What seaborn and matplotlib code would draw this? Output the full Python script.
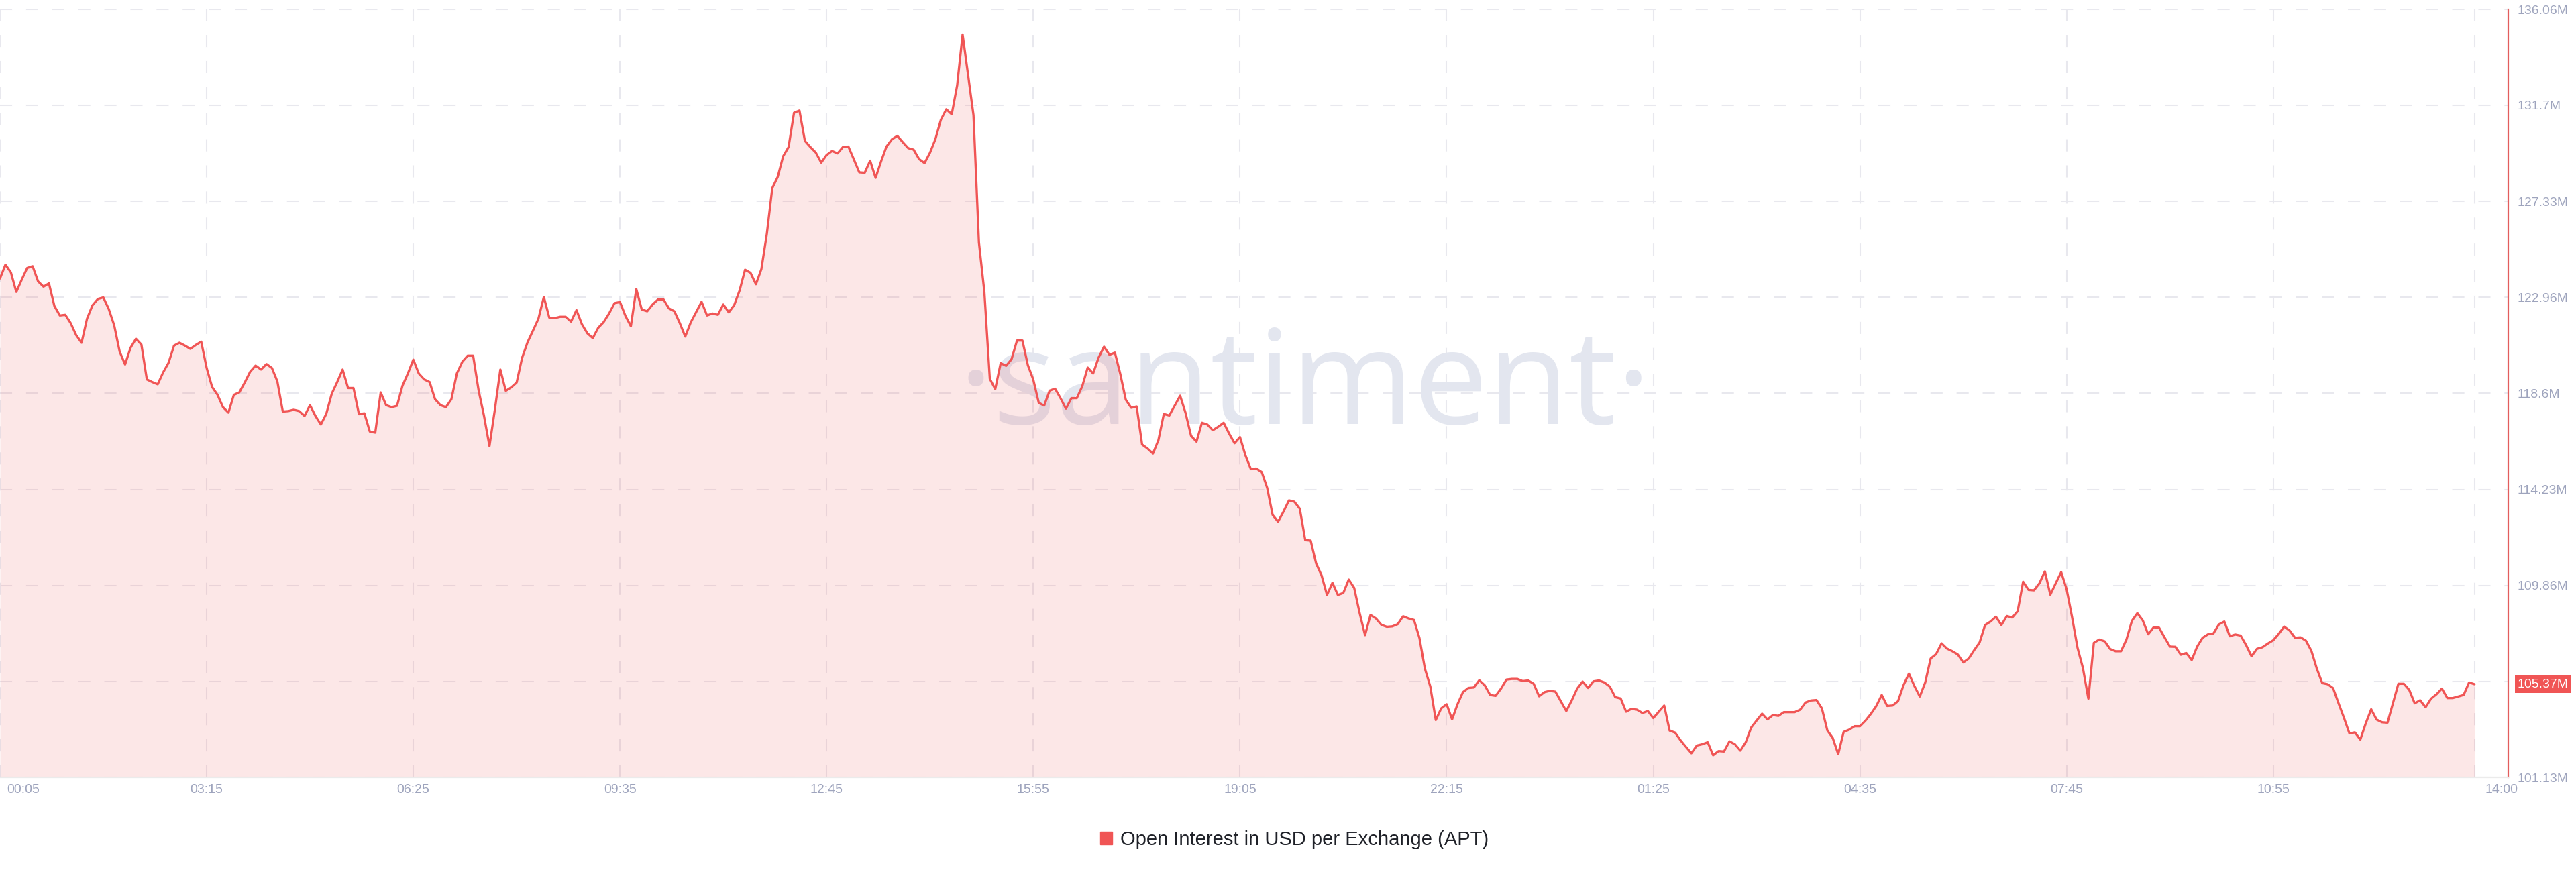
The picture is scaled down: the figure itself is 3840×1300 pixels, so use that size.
import pandas as pd
import seaborn as sns
import matplotlib.pyplot as plt
from matplotlib.patches import Patch
from matplotlib.transforms import ScaledTranslation, blended_transform_factory

# Open interest in USD, millions, one value every 5 minutes starting at 00:05
start_time = "2024-01-01 00:05"
open_interest = [
    123.82, 124.45, 124.10, 123.21, 123.77, 124.30, 124.38, 123.69, 123.45, 123.60,
    122.57, 122.14, 122.17, 121.79, 121.25, 120.90, 121.99, 122.60, 122.89, 122.96,
    122.43, 121.69, 120.50, 119.91, 120.67, 121.08, 120.82, 119.23, 119.11, 119.01,
    119.55, 119.99, 120.77, 120.90, 120.77, 120.62, 120.80, 120.95, 119.75, 118.89,
    118.53, 117.97, 117.72, 118.53, 118.64, 119.09, 119.58, 119.86, 119.68, 119.93,
    119.75, 119.14, 117.77, 117.79, 117.85, 117.79, 117.57, 118.06, 117.57, 117.18,
    117.67, 118.58, 119.11, 119.68, 118.84, 118.84, 117.65, 117.69, 116.86, 116.81,
    118.64, 118.06, 117.97, 118.03, 118.94, 119.50, 120.13, 119.50, 119.23, 119.11,
    118.33, 118.06, 117.97, 118.33, 119.50, 120.03, 120.31, 120.31, 118.74, 117.57,
    116.20, 117.87, 119.68, 118.71, 118.87, 119.09, 120.21, 120.92, 121.45, 121.99,
    122.98, 122.04, 122.02, 122.08, 122.08, 121.86, 122.38, 121.74, 121.33, 121.11,
    121.58, 121.84,
    122.23, 122.70, 122.75, 122.12, 121.65, 123.34, 122.41, 122.33, 122.64, 122.87,
    122.87, 122.46, 122.33, 121.79, 121.18, 121.82, 122.29, 122.76, 122.14, 122.23,
    122.17, 122.64, 122.28, 122.61, 123.28, 124.22, 124.08, 123.56, 124.25, 125.85,
    127.93, 128.44, 129.38, 129.80, 131.36, 131.46, 130.08, 129.80, 129.55, 129.09,
    129.44, 129.62, 129.51, 129.80, 129.82, 129.24, 128.65, 128.63, 129.18, 128.40,
    129.14, 129.82, 130.15, 130.31,
    130.02, 129.75, 129.68, 129.25, 129.07, 129.54, 130.16, 131.04, 131.52, 131.29,
    132.61, 134.92, 133.09, 131.25, 125.46, 123.21, 119.26, 118.79, 119.97, 119.85,
    120.15, 121.00, 121.00, 119.88, 119.22, 118.17, 118.04, 118.72, 118.81, 118.38,
    117.90, 118.38, 118.38, 118.92, 119.77, 119.50, 120.22, 120.72, 120.35, 120.45,
    119.47, 118.31, 117.94, 118.00, 116.27, 116.09, 115.86, 116.47, 117.66, 117.59,
    118.04, 118.49, 117.70, 116.67, 116.40, 117.26, 117.18, 116.92, 117.08, 117.26,
    116.77, 116.33, 116.61,
    115.78, 115.15, 115.18, 115.02, 114.30, 113.07, 112.76, 113.22, 113.73, 113.67,
    113.35, 111.92, 111.90, 110.86, 110.32, 109.43, 109.98, 109.43, 109.52, 110.13,
    109.75, 108.61, 107.60, 108.52, 108.36, 108.07, 107.98, 108.00, 108.10, 108.46,
    108.36, 108.29, 107.47, 106.08, 105.26, 103.74, 104.27, 104.46, 103.77, 104.46,
    105.01, 105.20, 105.22, 105.55, 105.32, 104.88, 104.84, 105.17, 105.58, 105.61,
    105.61, 105.51, 105.54, 105.39, 104.82, 105.01, 105.07, 105.03, 104.59, 104.15,
    104.63, 105.17, 105.49, 105.20, 105.50, 105.54, 105.45, 105.26, 104.78, 104.72,
    104.12, 104.25, 104.21, 104.06, 104.15, 103.83, 104.12, 104.40, 103.26, 103.17,
    102.82, 102.52, 102.23, 102.58, 102.64, 102.73, 102.14, 102.33, 102.31, 102.77,
    102.64, 102.35, 102.73, 103.40, 103.72, 104.03, 103.77, 103.97, 103.93, 104.10,
    104.10, 104.10, 104.21, 104.54, 104.63, 104.65, 104.27, 103.27, 102.92, 102.19,
    103.20, 103.30, 103.46, 103.46, 103.71, 104.02, 104.38, 104.88, 104.38, 104.40,
    104.60, 105.32, 105.85,
    105.29, 104.81, 105.45, 106.54, 106.74, 107.23, 106.99, 106.87, 106.72, 106.36,
    106.54, 106.92, 107.27, 108.06, 108.22, 108.44, 108.06, 108.47, 108.40, 108.69,
    110.03, 109.66, 109.64, 109.96, 110.50, 109.44, 109.96, 110.47, 109.69, 108.42,
    107.03, 106.10, 104.71, 107.25, 107.40, 107.32, 106.97, 106.87, 106.87, 107.40,
    108.25, 108.60, 108.27, 107.64, 107.96, 107.94, 107.50, 107.08, 107.07, 106.71,
    106.79, 106.47, 107.08, 107.48, 107.64, 107.68, 108.09, 108.22, 107.55, 107.63,
    107.58, 107.15, 106.64, 106.98, 107.05, 107.22, 107.37, 107.66, 107.99, 107.81,
    107.48, 107.50, 107.35, 106.89, 106.08, 105.42, 105.37, 105.19, 104.50, 103.84,
    103.13, 103.18, 102.85, 103.59, 104.23, 103.76, 103.64, 103.62, 104.50, 105.39,
    105.39, 105.11, 104.50, 104.64, 104.32, 104.71, 104.91, 105.17, 104.74, 104.74,
    104.81, 104.88, 105.45, 105.37,
]

ytick_values = [101.13, 105.50, 109.86, 114.23, 118.60, 122.96, 127.33, 131.70, 136.06]
ytick_labels = ["101.13M", "", "109.86M", "114.23M", "118.6M", "122.96M", "127.33M", "131.7M", "136.06M"]
xtick_labels = ["00:05", "03:15", "06:25", "09:35", "12:45", "15:55", "19:05",
                "22:15", "01:25", "04:35", "07:45", "10:55", "14:00"]
series_name = "Open Interest in USD per Exchange (APT)"
last_label = "105.37M"

RED = "#f05555"
AXIS_TXT = "#9ea4bd"
GRID = "#e8e8ee"

sns.set_theme(style="white")
plt.rcParams["font.family"] = ["Liberation Sans", "DejaVu Sans"]
plt.rcParams["lines.scale_dashes"] = False

times = pd.date_range(start_time, periods=len(open_interest), freq="5min")
df = pd.DataFrame({"time": times, "oi": open_interest})

# tick positions from the labels (day rolls over after 22:15)
xtick_pos = []
day = 0
for lab in xtick_labels:
    t = pd.Timestamp("2024-01-01 " + lab) + pd.Timedelta(days=day)
    if xtick_pos and t < xtick_pos[-1]:
        day += 1
        t += pd.Timedelta(days=1)
    xtick_pos.append(t)

fig = plt.figure(figsize=(38.4, 13), dpi=100)
ax = fig.add_axes([0, 1 - 1159 / 1300, 3739 / 3840, 1145 / 1300])

ymin, ymax = ytick_values[0], ytick_values[-1]

ax.fill_between(df["time"], df["oi"], ymin, color=RED, alpha=0.14, lw=0, zorder=1)
sns.lineplot(data=df, x="time", y="oi", ax=ax, color=RED, lw=2.4, zorder=3)

ax.set_ylim(ymin, ymax)
ax.set_xlim(times[0], times[0] + pd.Timedelta(minutes=2306))

ax.set_xlabel("")
ax.set_ylabel("")
ax.set_yticks(ytick_values)
ax.set_yticklabels(ytick_labels)
ax.set_xticks(xtick_pos)
ax.set_xticklabels(xtick_labels)

ax.yaxis.tick_right()
ax.tick_params(axis="y", length=0, pad=10, labelsize=14, labelcolor=AXIS_TXT)
ax.tick_params(axis="x", length=0, pad=7, labelsize=14, labelcolor=AXIS_TXT)

# first label hugs the left edge, last one sits past the data end
xl = ax.get_xticklabels()
xl[0].set_horizontalalignment("left")
xl[0].set_transform(xl[0].get_transform() + ScaledTranslation(0.10, 0, fig.dpi_scale_trans))
xl[-1].set_horizontalalignment("left")
xl[-1].set_transform(xl[-1].get_transform() + ScaledTranslation(0.16, 0, fig.dpi_scale_trans))

ax.set_axisbelow(True)
ax.grid(True, color=GRID, lw=1.5, linestyle=(0, (13, 15)))

for s in ["top", "left"]:
    ax.spines[s].set_visible(False)
ax.spines["right"].set_color("#e35d5d")
ax.spines["right"].set_linewidth(1.6)
ax.spines["bottom"].set_color("#ebebeb")
ax.spines["bottom"].set_linewidth(1.6)

# watermark
ax.text(1945 / 3840, 1 - 632 / 1300, "\u00b7santiment\u00b7", transform=fig.transFigure,
        ha="center", va="baseline", fontsize=142, family=["Open Sans", "DejaVu Sans"],
        color="#e3e6ef", zorder=0.6)

# current value tag on the right axis
tr = blended_transform_factory(ax.transAxes, ax.transData)
ax.text(1.0, open_interest[-1], last_label, transform=tr + ScaledTranslation(0.14, 0, fig.dpi_scale_trans),
        ha="left", va="center", fontsize=14, color="white", clip_on=False,
        bbox=dict(boxstyle="square,pad=0.22", fc=RED, ec="none"))

fig.legend(handles=[Patch(color=RED)], labels=[series_name], loc="center",
           bbox_to_anchor=(0.5025, 1 - 1252 / 1300), frameon=False, fontsize=21,
           handlelength=0.62, handleheight=0.62, handletextpad=0.4,
           labelcolor="#1f2128")

fig.savefig("out.png", dpi=100, facecolor="white")
